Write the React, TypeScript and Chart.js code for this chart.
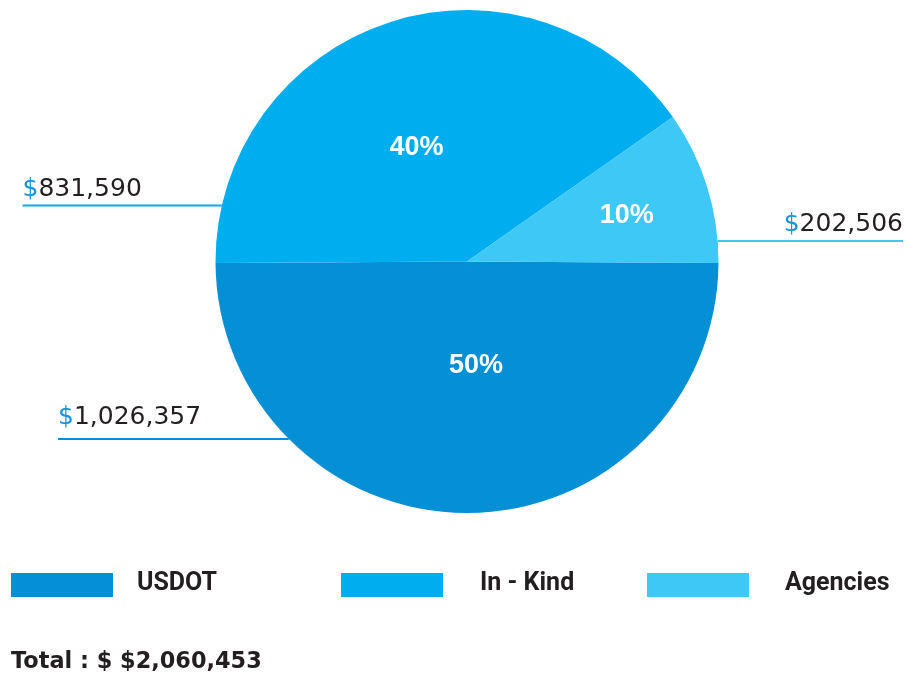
import React, { useEffect, useRef } from 'react';
import { Chart, registerables } from 'chart.js';

Chart.register(...registerables);

const categories = ['USDOT', 'In - Kind', 'Agencies'];
const amounts = [1026357, 831590, 202506];
const colors = ['#0590D6', '#00AEEF', '#3DC8F5'];

const pctLabelPos = [
  { f: 0.414, dx: 9, dy: 0 },
  { f: 0.477, dx: -14, dy: 0 },
  { f: 0.636, dx: 7, dy: 2 },
];

const leaders = [
  { side: 'left', dy: 177.5, x: 58, gap: 15 },
  { side: 'left', dy: -56, x: 22.5, gap: 10 },
  { side: 'right', dy: -20.5, x: 903, gap: 10 },
];

const legendPos = [
  { bx: 11, tx: 137 },
  { bx: 341, tx: 480 },
  { bx: 647, tx: 785 },
];

const overlay = {
  id: 'overlay',
  afterDraw(chart: any) {
    const ctx: CanvasRenderingContext2D = chart.ctx;
    const meta = chart.getDatasetMeta(0);
    const data = chart.data.datasets[0].data as number[];
    const bg = chart.data.datasets[0].backgroundColor as string[];
    const total = data.reduce((a, b) => a + b, 0);
    ctx.save();
    meta.data.forEach((arc: any, i: number) => {
      const { x, y, startAngle, endAngle, outerRadius } = arc.getProps(
        ['x', 'y', 'startAngle', 'endAngle', 'outerRadius'],
        true
      );
      const mid = (startAngle + endAngle) / 2;
      const p = pctLabelPos[i];
      const px = x + Math.cos(mid) * outerRadius * p.f + p.dx;
      const py = y + Math.sin(mid) * outerRadius * p.f + p.dy;
      ctx.font = 'bold 27px "Liberation Sans"';
      ctx.fillStyle = '#ffffff';
      ctx.textAlign = 'center';
      ctx.textBaseline = 'middle';
      ctx.fillText(Math.round((data[i] / total) * 100) + '%', px, py);

      const L = leaders[i];
      const ly = y + L.dy;
      const half = Math.sqrt(outerRadius * outerRadius - L.dy * L.dy);
      const edge = L.side === 'left' ? x - half : x + half;
      ctx.strokeStyle = bg[i];
      ctx.lineWidth = 2;
      ctx.beginPath();
      ctx.moveTo(L.x, ly);
      ctx.lineTo(edge, ly);
      ctx.stroke();

      ctx.font = '25px "DejaVu Sans"';
      ctx.textBaseline = 'alphabetic';
      ctx.textAlign = 'left';
      const rest = data[i].toLocaleString('en-US');
      const wd = ctx.measureText('$').width;
      const wr = ctx.measureText(rest).width;
      const tx = L.side === 'left' ? L.x : L.x - wd - wr;
      ctx.fillStyle = '#1B93D9';
      ctx.fillText('$', tx, ly - L.gap);
      ctx.fillStyle = '#231F20';
      ctx.fillText(rest, tx + wd, ly - L.gap);
    });

    // legend
    const labels = chart.data.labels as string[];
    labels.forEach((lab, i) => {
      const lp = legendPos[i];
      ctx.fillStyle = bg[i];
      ctx.fillRect(lp.bx, 573, 102, 24);
      ctx.fillStyle = '#231F20';
      ctx.font = 'bold 25px Roboto';
      ctx.textAlign = 'left';
      ctx.textBaseline = 'alphabetic';
      ctx.fillText(lab, lp.tx, 590);
    });

    ctx.font = 'bold 22.4px "DejaVu Sans"';
    ctx.fillStyle = '#231F20';
    ctx.fillText('Total : $ $' + total.toLocaleString('en-US'), 11, 668);
    ctx.restore();
  },
};

export default function App() {
  const ref = useRef<HTMLCanvasElement | null>(null);
  useEffect(() => {
    document.body.style.margin = '0';
    if (!ref.current) return;
    const total = amounts.reduce((a, b) => a + b, 0);
    const firstDeg = (360 * amounts[0]) / total;
    const chart = new Chart(ref.current, {
      type: 'pie',
      data: {
        labels: categories,
        datasets: [
          {
            data: amounts,
            backgroundColor: colors,
            borderWidth: 0,
          },
        ],
      },
      options: {
        responsive: false,
        animation: false,
        rotation: 90 + (180 - firstDeg) / 2,
        layout: { padding: { top: 10, bottom: 160, left: 18, right: 0 } },
        plugins: {
          legend: { display: false },
          tooltip: { enabled: false },
        },
      },
      plugins: [overlay],
    });
    return () => chart.destroy();
  }, []);
  return (
    <div style={{ width: 916, height: 673, overflow: 'hidden' }}>
      <canvas ref={ref} width={916} height={673} style={{ display: 'block' }} />
    </div>
  );
}
